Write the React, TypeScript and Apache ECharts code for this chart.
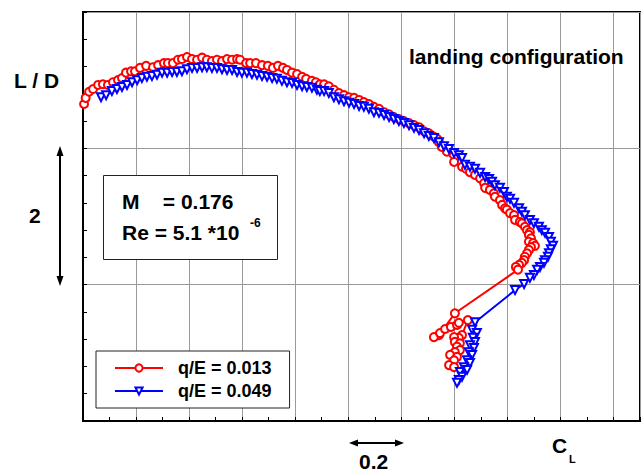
import React, { useEffect, useRef } from "react";
import * as echarts from "echarts";

const FONT = "'Liberation Sans', Arial, Helvetica, sans-serif";

const seriesNames = ["q/E = 0.013", "q/E = 0.049"];

// x axis: lift coefficient C_L ; y axis: L / D  (one grid step = 0.2 in C_L, = 2 in L/D)
const xMin = 0.6;
const xMax = 2.7;
const xStep = 0.2;
const yMin = 4;
const yMax = 10;
const yStep = 2;

// q/E = 0.013  (red circles)
const red013: number[][] = [
  [0.604, 8.65], [0.61, 8.74], [0.623, 8.83], [0.638, 8.87], [0.657, 8.93], [0.675, 8.94],
  [0.694, 8.93], [0.713, 8.97], [0.732, 9.0], [0.747, 9.03], [0.762, 9.11], [0.781, 9.13],
  [0.796, 9.13], [0.815, 9.18], [0.838, 9.21], [0.864, 9.19], [0.883, 9.22], [0.905, 9.25],
  [0.92, 9.25], [0.939, 9.25], [0.958, 9.3], [0.973, 9.31], [0.992, 9.34], [1.011, 9.31],
  [1.03, 9.3], [1.049, 9.33], [1.067, 9.3], [1.086, 9.28], [1.105, 9.3], [1.124, 9.28],
  [1.143, 9.31], [1.162, 9.3], [1.181, 9.31], [1.192, 9.3], [1.215, 9.25], [1.23, 9.25],
  [1.252, 9.25], [1.275, 9.22], [1.297, 9.21], [1.316, 9.18], [1.335, 9.21], [1.354, 9.18],
  [1.369, 9.15], [1.388, 9.11], [1.407, 9.09], [1.426, 9.05], [1.441, 9.02], [1.463, 8.99],
  [1.478, 8.97], [1.493, 8.94], [1.509, 8.94], [1.527, 8.91], [1.546, 8.86], [1.565, 8.81],
  [1.584, 8.78], [1.603, 8.75], [1.622, 8.74], [1.641, 8.71], [1.659, 8.68], [1.678, 8.65],
  [1.697, 8.61], [1.716, 8.58], [1.735, 8.53], [1.754, 8.5], [1.772, 8.46], [1.791, 8.43],
  [1.81, 8.4], [1.829, 8.37], [1.848, 8.34], [1.867, 8.31], [1.886, 8.25], [1.904, 8.22],
  [1.923, 8.17], [1.935, 8.14], [1.942, 8.09], [1.953, 8.02], [1.972, 7.95], [1.999, 7.8],
  [2.029, 7.73], [2.044, 7.7], [2.059, 7.65], [2.078, 7.61], [2.097, 7.56], [2.112, 7.49],
  [2.116, 7.42], [2.134, 7.39], [2.149, 7.34], [2.153, 7.29], [2.172, 7.24], [2.18, 7.17],
  [2.191, 7.12], [2.198, 7.1], [2.21, 7.05], [2.225, 7.02], [2.229, 6.95], [2.247, 6.92],
  [2.255, 6.9], [2.266, 6.85], [2.274, 6.8], [2.285, 6.77], [2.281, 6.73], [2.289, 6.68],
  [2.281, 6.63], [2.297, 6.61], [2.304, 6.57], [2.289, 6.55], [2.281, 6.51], [2.274, 6.46],
  [2.266, 6.41], [2.263, 6.36], [2.255, 6.32], [2.244, 6.29], [2.232, 6.26], [2.24, 6.22],
  [2.002, 5.58], [1.942, 5.26], [1.923, 5.23], [1.946, 5.29], [1.965, 5.35], [1.987, 5.38],
  [2.01, 5.41], [2.017, 5.44], [2.051, 5.48], [2.029, 5.26], [2.017, 5.22], [1.999, 5.23],
  [2.002, 5.16], [2.021, 5.14], [2.01, 5.09], [2.021, 5.04], [2.002, 5.01], [1.984, 4.97],
  [2.01, 4.94], [1.999, 4.89], [1.98, 4.82], [1.999, 4.79],
];

// q/E = 0.049  (blue triangles)
const blue049: number[][] = [
  [0.668, 8.75], [0.687, 8.78], [0.709, 8.84], [0.728, 8.87], [0.747, 8.9], [0.766, 8.93],
  [0.785, 8.97], [0.804, 9.0], [0.822, 9.03], [0.841, 9.05], [0.86, 9.06], [0.879, 9.08],
  [0.898, 9.11], [0.917, 9.11], [0.936, 9.12], [0.954, 9.12], [0.973, 9.13], [0.992, 9.16],
  [1.011, 9.18], [1.03, 9.18], [1.049, 9.19], [1.067, 9.19], [1.086, 9.18], [1.105, 9.18],
  [1.124, 9.16], [1.143, 9.15], [1.162, 9.15], [1.181, 9.12], [1.199, 9.11], [1.218, 9.11],
  [1.237, 9.09], [1.256, 9.08], [1.275, 9.06], [1.294, 9.05], [1.313, 9.03], [1.331, 9.02],
  [1.35, 8.99], [1.369, 8.97], [1.388, 8.96], [1.407, 8.93], [1.426, 8.91], [1.444, 8.9],
  [1.463, 8.89], [1.482, 8.86], [1.493, 8.84], [1.509, 8.84], [1.527, 8.81], [1.546, 8.75],
  [1.565, 8.72], [1.584, 8.69], [1.603, 8.67], [1.622, 8.65], [1.641, 8.62], [1.659, 8.61],
  [1.678, 8.58], [1.697, 8.53], [1.716, 8.52], [1.735, 8.49], [1.754, 8.46], [1.772, 8.43],
  [1.791, 8.4], [1.81, 8.37], [1.829, 8.34], [1.848, 8.3], [1.867, 8.27], [1.886, 8.22],
  [1.904, 8.18], [1.923, 8.15], [1.942, 8.09], [1.961, 8.03], [1.98, 7.99], [1.999, 7.93],
  [2.017, 7.9], [2.029, 7.86], [2.04, 7.76], [2.059, 7.73], [2.078, 7.7], [2.097, 7.64],
  [2.116, 7.58], [2.131, 7.55], [2.142, 7.51], [2.153, 7.46], [2.172, 7.42], [2.187, 7.36],
  [2.198, 7.29], [2.21, 7.26], [2.225, 7.2], [2.244, 7.12], [2.255, 7.07], [2.266, 7.02],
  [2.285, 6.95], [2.3, 6.9], [2.319, 6.85], [2.33, 6.8], [2.342, 6.76], [2.357, 6.7],
  [2.364, 6.63], [2.372, 6.57], [2.364, 6.52], [2.357, 6.46], [2.353, 6.41], [2.342, 6.36],
  [2.338, 6.32], [2.323, 6.26], [2.312, 6.22], [2.3, 6.14], [2.285, 6.1], [2.263, 6.01],
  [2.229, 5.92], [2.078, 5.45], [2.067, 5.34], [2.085, 5.29], [2.07, 5.22], [2.078, 5.16],
  [2.059, 5.11], [2.074, 5.07], [2.055, 5.01], [2.067, 4.97], [2.048, 4.89], [2.059, 4.85],
  [2.036, 4.79], [2.048, 4.75], [2.021, 4.72], [2.029, 4.65], [2.017, 4.6], [2.01, 4.56],
];

const txt = (text: string, x: number, y: number, size: number, extra: any = {}) => ({
  type: "text",
  z: 100,
  style: {
    text,
    x,
    y,
    fill: "#000",
    font: `bold ${size}px ${FONT}`,
    textAlign: "left",
    textVerticalAlign: "middle",
    align: "left",
    verticalAlign: "middle",
    ...extra,
  },
});

export default function App() {
  const ref = useRef<HTMLDivElement>(null);

  useEffect(() => {
    const chart = echarts.init(ref.current!, null, { renderer: "svg" });
    const black = { stroke: "#000", lineWidth: 2 };
    chart.setOption({
      animation: false,
      backgroundColor: "#fff",
      grid: {
        left: 83,
        right: 4,
        top: 12,
        bottom: 54,
        show: true,
        borderColor: "#000",
        borderWidth: 2,
        backgroundColor: "transparent",
      },
      xAxis: {
        type: "value",
        min: xMin,
        max: xMax,
        interval: xStep,
        axisLabel: { show: false },
        axisLine: { show: true, onZero: false, lineStyle: { color: "#000", width: 2 } },
        axisTick: { show: true, inside: true, length: 4, lineStyle: { color: "#000", width: 1 } },
        minorTick: { show: true, splitNumber: 2, length: 4, lineStyle: { color: "#000", width: 1 } },
        splitLine: { show: true, lineStyle: { color: "#9a9a9a", width: 1 } },
      },
      yAxis: {
        type: "value",
        min: yMin,
        max: yMax,
        interval: yStep,
        axisLabel: { show: false },
        axisLine: { show: true, onZero: false, lineStyle: { color: "#000", width: 2 } },
        axisTick: { show: true, inside: true, length: 4, lineStyle: { color: "#000", width: 1 } },
        minorTick: { show: true, splitNumber: 5, length: 4, lineStyle: { color: "#000", width: 1 } },
        splitLine: { show: true, lineStyle: { color: "#9a9a9a", width: 1 } },
      },
      legend: {
        orient: "vertical",
        left: 96,
        top: 351,
        padding: [8, 18, 8, 18],
        itemGap: 5,
        itemWidth: 48,
        itemHeight: 9,
        backgroundColor: "#fff",
        borderColor: "#222",
        borderWidth: 1,
        borderRadius: 0,
        z: 50,
        textStyle: {
          fontSize: 18,
          fontWeight: "bold",
          fontFamily: FONT,
          color: "#000",
          padding: [0, 0, 0, 10],
        },
        data: seriesNames,
      },
      series: [
        {
          name: seriesNames[0],
          type: "line",
          data: red013,
          symbol: "emptyCircle",
          symbolSize: 8,
          showAllSymbol: true,
          lineStyle: { color: "#ff0000", width: 2 },
          itemStyle: { color: "#ff0000", borderWidth: 1 },
          z: 3,
        },
        {
          name: seriesNames[1],
          type: "line",
          data: blue049,
          symbol: "emptyTriangle",
          symbolRotate: 180,
          symbolSize: 8,
          showAllSymbol: true,
          lineStyle: { color: "#0000ff", width: 2 },
          itemStyle: { color: "#0000ff", borderWidth: 1 },
          z: 4,
        },
      ],
      graphic: [
        txt("L / D", 14, 80, 21),
        txt("landing configuration", 409, 56, 21),
        txt("2", 29, 215, 21),
        {
          type: "line",
          z: 100,
          shape: { x1: 60, y1: 152, x2: 60, y2: 280 },
          style: black,
        },
        {
          type: "polygon",
          z: 100,
          shape: { points: [[60, 146], [56.5, 156], [63.5, 156]] },
          style: { fill: "#000" },
        },
        {
          type: "polygon",
          z: 100,
          shape: { points: [[60, 286], [56.5, 276], [63.5, 276]] },
          style: { fill: "#000" },
        },
        {
          type: "line",
          z: 100,
          shape: { x1: 354, y1: 443, x2: 399, y2: 443 },
          style: black,
        },
        {
          type: "polygon",
          z: 100,
          shape: { points: [[349, 443], [358, 439.5], [358, 446.5]] },
          style: { fill: "#000" },
        },
        {
          type: "polygon",
          z: 100,
          shape: { points: [[404, 443], [395, 439.5], [395, 446.5]] },
          style: { fill: "#000" },
        },
        txt("0.2", 359, 461, 21),
        txt("C", 552, 445, 21),
        txt("L", 569, 459, 11),
        {
          type: "rect",
          z: 90,
          shape: { x: 103.5, y: 175.5, width: 174, height: 84 },
          style: { fill: "#fff", stroke: "#222", lineWidth: 1 },
        },
        txt("M    = 0.176", 122, 201, 21),
        txt("Re = 5.1 *10", 122, 232, 21),
        txt("-6", 250, 223, 12),
      ],
    });
    return () => chart.dispose();
  }, []);

  return (
    <div
      ref={ref}
      style={{ position: "absolute", left: 0, top: 0, width: 644, height: 475, background: "#fff" }}
    />
  );
}
